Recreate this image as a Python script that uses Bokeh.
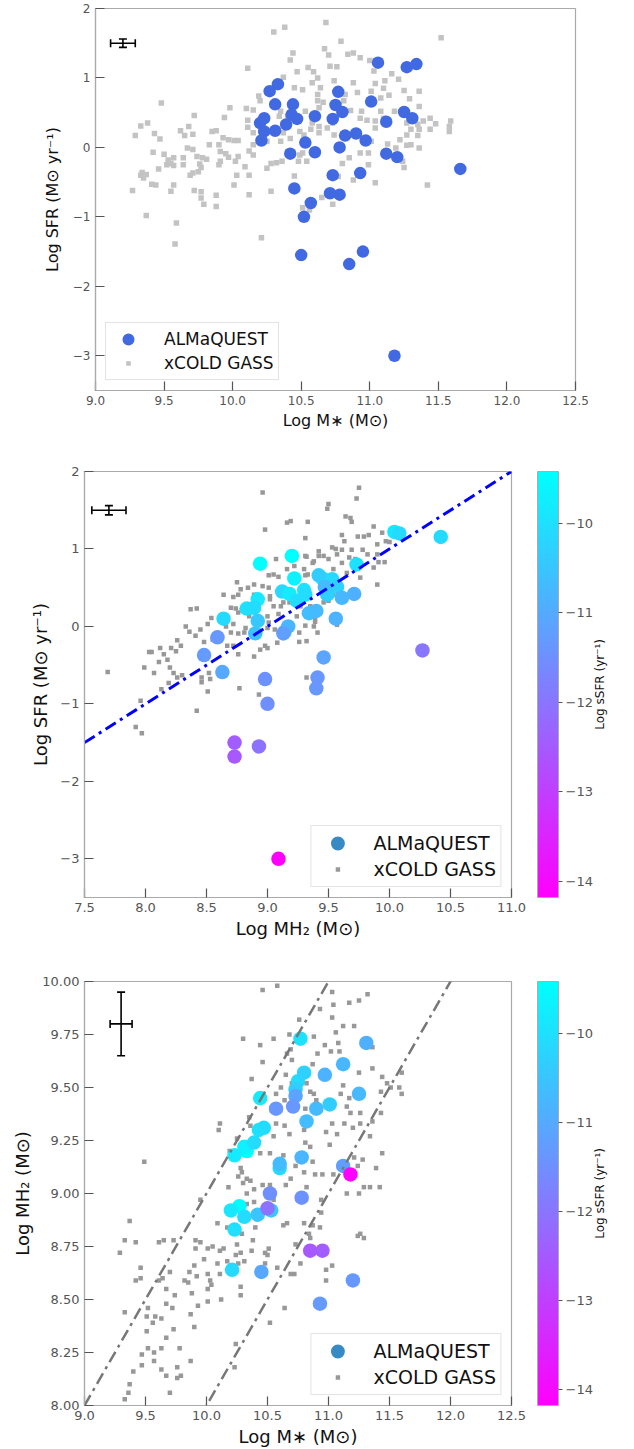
import math
from bokeh.plotting import figure
from bokeh.models import (Range1d, FixedTicker, CustomJSTickFormatter, ColumnDataSource,
                          LinearColorMapper, ColorBar, Legend, LegendItem, Whisker, TeeHead,
                          AllLabels, Div)
from bokeh.transform import transform
from bokeh.layouts import column, row
from bokeh.embed import file_html
from bokeh.resources import INLINE

FONT = "DejaVu Sans"

# ---------------- ALMaQUEST galaxies ----------------
alma_mstar = [11.06, 11.27, 11.34, 10.33, 10.27, 10.77, 10.31, 10.44, 10.75, 11.01,
              10.80, 11.25, 11.31, 10.60, 10.73, 11.12, 10.23, 10.20, 10.43, 10.47,
              10.39, 10.23, 10.31, 10.21, 10.53, 10.82, 10.90, 10.97, 10.42, 10.60,
              10.78, 11.12, 11.20, 11.66, 10.73, 10.93, 10.45, 10.71, 10.78, 10.57,
              10.52, 10.95, 10.50, 10.85, 11.18]
alma_sfr = [1.22, 1.155, 1.20, 0.91, 0.81, 0.80, 0.62, 0.62, 0.61, 0.66,
            0.51, 0.51, 0.42, 0.45, 0.41, 0.37, 0.42, 0.35, 0.47, 0.41,
            0.33, 0.23, 0.24, 0.10, 0.07, 0.17, 0.20, 0.10, -0.09, -0.07,
            0.00, -0.09, -0.14, -0.31, -0.40, -0.37, -0.59, -0.66, -0.68, -0.80,
            -1.00, -1.50, -1.55, -1.68, -3.00]
alma_mh2 = [10.04, 10.42, 10.08, 9.20, 8.94, 9.73, 9.22, 9.45, 9.53, 9.42,
            9.57, 9.47, 9.71, 9.12, 9.49, 9.61, 9.18, 8.92, 9.30, 9.31,
            9.24, 8.83, 8.89, 8.64, 8.92, 9.34, 9.40, 9.56, 8.90, 9.14,
            9.17, 9.13, 8.59, 10.27, 9.46, 8.48, 8.63, 9.41, 8.98, 9.40,
            9.00, 8.73, 8.93, 8.73, 9.09]
alma_ssfr = [s - m for s, m in zip(alma_sfr, alma_mstar)]

# ---------------- xCOLD GASS, panel 1 (M*, SFR) ----------------
xcg1_mstar = [10.30, 10.38, 10.44, 10.42, 10.47, 10.11, 10.37, 10.45, 10.51, 10.55,
              10.59, 10.58, 10.62, 10.19, 10.20, 9.98, 10.10, 10.15, 9.94, 10.11,
              10.11, 9.72, 9.48, 9.38, 9.33, 9.29, 9.43, 9.47, 9.62, 9.65,
              9.68, 9.71, 9.85, 9.88, 9.93, 9.97, 10.01, 10.04, 10.15, 10.15,
              10.12, 9.67, 9.71, 9.74, 9.78, 9.83, 9.90, 9.91, 9.95, 9.97,
              9.90, 9.91, 10.02, 10.04, 9.42, 9.50, 9.53, 9.57, 9.52, 9.55,
              9.57, 9.46, 9.64, 9.64, 9.76, 9.75, 9.77, 9.81, 9.34, 9.33,
              9.37, 9.35, 9.41, 9.44, 9.57, 9.55, 9.69, 9.71, 9.27, 9.72,
              9.77, 9.77, 9.79, 9.88, 9.88, 9.37, 10.01, 10.03, 10.09, 10.12,
              10.12, 10.25, 10.28, 10.28, 10.32, 10.36, 10.45, 10.48, 10.51, 10.54,
              10.57, 10.49, 10.42, 10.35, 10.37, 10.25, 10.15, 10.34, 10.35, 10.40,
              10.62, 10.53, 10.63, 10.62, 10.58, 10.63, 9.59, 9.58, 10.21, 10.51,
              10.68, 10.79, 10.67, 10.70, 10.84, 10.88, 10.93, 11.00, 10.71, 10.76,
              11.52, 11.03, 11.16, 11.21, 11.11, 11.04, 11.10, 11.14, 11.08, 11.01,
              11.25, 11.36, 11.29, 11.36, 11.18, 11.08, 10.94, 10.86, 10.81, 10.82,
              10.64, 10.74, 10.88, 10.91, 10.66, 10.73, 10.93, 10.98, 11.04, 11.10,
              11.27, 11.35, 11.39, 11.44, 11.48, 11.44, 11.36, 11.35, 11.59, 11.58,
              11.58, 11.30, 11.27, 11.22, 11.27, 11.30, 11.36, 11.13, 11.19, 11.04,
              11.01, 10.93, 10.99, 10.84, 10.85, 10.99, 10.80, 10.74, 10.69, 10.63,
              10.52, 10.49, 11.24, 11.25, 11.04, 11.42, 10.88, 10.77, 10.65, 10.73,
              10.56]
xcg1_sfr = [1.66, 1.73, 1.36, 1.26, 1.09, 1.14, 1.01, 0.86, 0.83, 1.15,
            1.09, 0.93, 1.00, 0.74, 0.67, 0.57, 0.56, 0.54, 0.43, 0.39,
            0.29, 0.46, 0.64, 0.35, 0.31, 0.17, 0.20, 0.12, 0.24, 0.17,
            0.30, 0.19, 0.23, 0.24, 0.14, 0.11, 0.10, 0.10, 0.04, -0.11,
            -0.05, -0.01, -0.03, -0.13, -0.15, 0.04, 0.04, -0.06, -0.09, -0.14,
            -0.25, -0.20, -0.20, -0.13, -0.07, -0.10, -0.18, -0.15, -0.25, -0.23,
            -0.26, -0.31, -0.25, -0.15, -0.24, -0.35, -0.29, -0.17, -0.36, -0.40,
            -0.39, -0.44, -0.53, -0.54, -0.54, -0.63, -0.40, -0.37, -0.62, -0.62,
            -0.64, -0.73, -0.82, -0.69, -0.85, -0.98, -0.54, -0.40, -0.28, -0.40,
            -0.68, -0.30, -0.63, -0.23, -0.22, -0.20, -0.41, -0.20, -0.08, -0.20,
            0.26, 0.23, 0.13, 0.09, 0.21, 0.09, 0.21, 0.45, 0.52, 0.45,
            0.76, 0.52, 0.57, 0.67, 0.35, 0.30, -1.09, -1.39, -1.30, -0.87,
            1.80, 1.53, 1.42, 1.33, 1.34, 1.36, 1.29, 1.25, 1.17, 1.16,
            1.58, 1.10, 1.06, 0.98, 0.96, 0.92, 0.85, 0.75, 0.71, 0.81,
            0.82, 0.81, 0.70, 0.59, 0.52, 0.52, 0.52, 0.53, 0.67, 0.76,
            0.86, 0.96, 0.93, 0.79, 0.65, 0.35, 0.42, 0.39, 0.38, 0.42,
            0.35, 0.33, 0.38, 0.42, 0.34, 0.26, 0.26, 0.17, 0.38, 0.30,
            0.23, 0.26, 0.18, 0.11, 0.03, 0.04, -0.01, 0.05, -0.01, 0.28,
            0.09, -0.08, -0.08, 0.18, -0.15, -0.25, -0.23, 0.18, 0.28, 0.21,
            0.18, -0.11, -0.20, -0.29, -0.51, -0.54, -0.47, -0.42, -0.72, -0.82,
            -0.90]

# ---------------- xCOLD GASS, panel 2 (MH2, SFR) ----------------
xcg2_mh2 = [8.96, 8.98, 9.16, 9.19, 9.33, 9.31, 9.07, 9.16, 9.22, 9.32,
            9.38, 9.42, 9.01, 9.05, 8.89, 8.96, 8.75, 8.78, 8.84, 8.64,
            8.72, 8.76, 8.89, 9.02, 8.70, 8.74, 8.76, 8.79, 8.85, 9.00,
            9.01, 9.06, 9.11, 9.13, 9.18, 9.27, 9.30, 9.35, 9.39, 9.38,
            9.41, 9.26, 9.31, 8.37, 8.42, 8.33, 8.36, 8.41, 8.45, 8.51,
            8.54, 8.48, 8.55, 8.26, 8.29, 8.21, 8.25, 8.12, 8.05, 8.03,
            8.15, 8.18, 8.11, 7.99, 8.07, 8.20, 8.23, 8.26, 8.30, 8.46,
            8.52, 8.53, 8.51, 7.69, 8.77, 8.89, 8.94, 8.98, 9.08, 8.76,
            8.82, 8.70, 8.66, 8.72, 8.61, 8.67, 8.72, 9.32, 9.32, 9.26,
            9.24, 9.75, 9.73, 9.50, 9.49, 9.64, 9.68, 9.69, 9.87, 9.61,
            9.63, 9.74, 9.79, 9.83, 9.94, 9.97, 10.00, 9.53, 9.56, 9.57,
            9.61, 9.69, 9.78, 9.82, 9.90, 9.90, 9.42, 9.46, 9.31, 9.37,
            9.50, 9.61, 9.67, 9.72, 9.74, 9.91, 9.96, 9.87, 9.76, 9.90,
            9.65, 9.54, 9.30, 9.33, 9.42, 9.50, 9.54, 9.50, 9.46, 9.39,
            9.57, 9.00, 8.76, 7.92, 7.97, 7.96, 8.13, 8.19, 8.46, 8.42,
            8.93, 9.05, 9.09, 9.02, 9.00, 8.81, 9.31, 9.09, 9.01]
xcg2_sfr = [1.73, 1.25, 1.34, 1.36, 1.35, 1.14, 0.87, 0.74, 0.78, 0.90,
            0.84, 0.91, 0.66, 0.67, 0.54, 0.52, 0.57, 0.48, 0.50, 0.41,
            0.38, 0.41, 0.41, 0.39, 0.24, 0.23, 0.18, 0.21, 0.13, 0.13,
            0.05, -0.04, 0.26, 0.31, 0.31, 0.26, 0.18, 0.26, 0.11, 0.00,
            -0.08, -0.20, 0.01, 0.22, 0.23, 0.00, -0.07, -0.12, -0.04, 0.03,
            0.11, -0.20, -0.17, -0.18, -0.25, -0.28, -0.32, -0.28, -0.33, -0.33,
            -0.36, -0.43, -0.46, -0.53, -0.60, -0.53, -0.60, -0.66, -0.63, -0.66,
            -0.60, -0.68, -0.84, -0.59, -0.80, -0.39, -0.30, -0.25, -0.21, -0.09,
            -0.02, -0.08, 0.00, 0.03, -0.10, -0.25, -0.25, -0.66, -0.19, -0.08,
            0.13, 1.79, 1.65, 1.58, 1.52, 1.42, 1.40, 1.35, 1.29, 1.18,
            1.10, 1.16, 1.16, 1.18, 1.21, 1.10, 1.09, 1.02, 1.00, 0.93,
            0.99, 0.99, 0.99, 0.93, 1.06, 0.93, 0.97, 0.91, 0.91, 0.82,
            0.87, 0.82, 0.89, 0.87, 0.76, 0.83, 0.83, 0.76, 0.63, 0.54,
            0.69, 0.74, 0.74, 0.67, 0.63, 0.54, 0.41, 0.33, 0.31, 0.06,
            0.02, -0.28, -0.36, -1.30, -1.38, -0.96, -0.81, -0.73, -0.72, -1.09,
            -0.88, 0.26, 0.16, 0.35, -0.02, -0.08, 0.66, 0.64, 0.50]

# ---------------- xCOLD GASS, panel 3 (M*, MH2) ----------------
xcg3_mstar = [10.58, 10.46, 10.30, 10.55, 10.44, 10.68, 10.76, 10.88, 10.66, 10.70,
              10.69, 10.46, 10.37, 10.65, 10.61, 10.70, 10.82, 10.85, 10.88, 10.57,
              10.64, 10.81, 10.90, 10.35, 10.36, 10.57, 10.64, 10.68, 10.55, 10.11,
              10.10, 10.25, 10.19, 10.44, 10.52, 10.63, 10.73, 10.80, 10.87, 10.89,
              9.49, 10.28, 10.29, 10.26, 10.33, 10.36, 10.30, 10.39, 10.33, 10.18,
              10.46, 10.52, 10.65, 10.69, 9.95, 10.39, 10.33, 10.55, 10.94, 11.03,
              11.32, 11.25, 11.17, 11.04, 10.93, 11.03, 11.21, 11.12, 11.06, 10.97,
              11.08, 11.02, 11.09, 11.36, 10.91, 10.87, 11.25, 11.36, 11.44, 11.60,
              11.58, 11.60, 11.43, 11.48, 11.51, 11.12, 11.10, 11.17, 11.15, 11.18,
              11.26, 11.43, 11.36, 11.03, 10.98, 11.07, 11.13, 11.26, 11.34, 11.20,
              10.83, 10.80, 10.81, 10.85, 11.01, 11.44, 11.21, 11.28, 11.39, 11.24,
              10.95, 11.04, 10.82, 11.15, 11.25, 11.29, 11.34, 11.42, 10.09, 10.17,
              10.28, 10.40, 10.66, 10.80, 10.93, 10.85, 11.24, 9.91, 10.01, 10.05,
              10.14, 10.25, 10.37, 10.51, 10.28, 10.50, 9.98, 10.17, 10.31, 10.58,
              10.77, 9.92, 10.11, 10.69, 9.29, 9.33, 9.37, 9.42, 9.33, 9.42,
              9.46, 9.46, 9.52, 9.51, 9.56, 9.51, 9.61, 9.65, 9.61, 9.64,
              9.70, 9.73, 9.67, 9.67, 9.63, 9.58, 9.72, 9.74, 9.82, 9.85,
              9.88, 9.86, 9.90, 9.91, 9.95, 9.87, 9.90, 9.93, 10.01, 10.03,
              10.04, 10.01, 10.01, 10.12, 10.09, 10.11, 10.24, 10.26, 10.28, 10.28,
              10.24, 10.23, 10.29, 10.38, 10.48, 10.48, 10.52, 10.63, 10.64, 10.72,
              10.73, 10.84, 10.87, 10.94, 10.98, 10.98, 11.03, 11.26, 11.29, 11.06,
              9.36, 9.37, 9.33, 9.40, 9.47, 9.47, 9.52, 9.57, 9.57, 9.63,
              9.63, 9.67, 9.67, 9.70, 9.73, 9.76, 9.76, 9.78, 9.79, 9.87]
xcg3_mh2 = [9.98, 9.96, 9.73, 9.73, 9.70, 9.75, 9.82, 9.74, 9.66, 9.63,
            9.68, 9.62, 9.54, 9.56, 9.50, 9.52, 9.52, 9.48, 9.47, 9.47,
            9.44, 9.40, 9.44, 9.36, 9.32, 9.33, 9.32, 9.28, 9.27, 9.33,
            9.30, 9.26, 9.20, 9.19, 9.19, 9.18, 9.13, 9.10, 9.15, 9.09,
            9.15, 9.12, 9.10, 9.08, 9.07, 9.06, 9.05, 9.02, 9.00, 9.03,
            9.04, 9.04, 9.04, 9.07, 8.97, 8.96, 8.95, 8.97, 8.97, 9.95,
            9.94, 9.91, 9.90, 9.89, 9.87, 9.83, 9.79, 9.79, 9.76, 9.70,
            9.71, 9.67, 9.67, 9.69, 9.66, 9.61, 9.57, 9.59, 9.55, 9.57,
            9.50, 9.47, 9.48, 9.52, 9.50, 9.51, 9.47, 9.45, 9.41, 9.38,
            9.38, 9.38, 9.34, 9.33, 9.29, 9.28, 9.33, 9.33, 9.27, 9.31,
            9.36, 9.30, 9.24, 9.22, 9.23, 9.19, 9.17, 9.16, 9.12, 9.13,
            9.09, 9.09, 9.03, 9.00, 9.00, 9.03, 9.03, 9.03, 8.86, 8.84,
            8.88, 8.84, 8.86, 8.86, 8.84, 8.79, 8.80, 8.78, 8.74, 8.75,
            8.74, 8.76, 8.73, 8.74, 8.72, 8.71, 8.69, 8.68, 8.68, 8.65,
            8.67, 8.61, 8.62, 8.62, 8.72, 8.78, 8.87, 8.77, 8.44, 8.59,
            8.60, 8.65, 8.46, 8.42, 8.39, 8.35, 8.77, 8.78, 8.59, 8.60,
            8.63, 8.78, 8.55, 8.48, 8.41, 8.42, 8.46, 8.52, 8.59, 8.58,
            8.53, 8.63, 8.66, 8.74, 8.77, 8.43, 8.37, 8.47, 8.62, 8.59,
            8.57, 8.55, 8.49, 8.50, 8.67, 8.73, 8.71, 8.67, 8.56, 8.52,
            8.29, 8.18, 8.81, 8.78, 8.72, 8.67, 8.39, 8.85, 8.46, 8.62,
            8.76, 8.81, 8.85, 8.91, 8.64, 8.59, 8.66, 8.81, 8.79, 8.12,
            8.06, 8.10, 8.03, 8.16, 8.24, 8.19, 8.27, 8.25, 8.21, 8.27,
            8.17, 8.32, 8.14, 8.06, 8.36, 8.18, 8.13, 8.27, 8.14, 8.21]

# ---------------- error bars and relations ----------------
err1_x, err1_y, err1_dx, err1_dy = [9.2], [1.5], [0.09], [0.06]
err2_x, err2_y, err2_dx, err2_dy = [7.7], [1.5], [0.14], [0.06]
err3_x, err3_y, err3_dx, err3_dy = [9.3], [9.8], [0.09], [0.15]
sfe_offset = 9.0               # log SFR = log MH2 - 9
gas_frac_offsets = [1.0, 2.0]  # log MH2 = log M* - offset

# ---------------- ticks ----------------
x1_ticks = [9.0, 9.5, 10.0, 10.5, 11.0, 11.5, 12.0, 12.5]
y1_ticks = [2, 1, 0, -1, -2, -3]
x2_ticks = [7.5, 8.0, 8.5, 9.0, 9.5, 10.0, 10.5, 11.0]
y3_ticks = [8.0, 8.25, 8.5, 8.75, 9.0, 9.25, 9.5, 9.75, 10.0]
cbar_ticks = [-10, -11, -12, -13, -14]

AX_COL = "#aaaaaa"
TICK_COL = "#555555"


def fmt(d):
    return CustomJSTickFormatter(code="return tick.toFixed(%d).replace('-', '\\u2212')" % d)


def make_fig(xr, yr, fw, fh, bl, br, bt, bb, xt, yt, xd, yd, xlabel, ylabel, tfs, lfs, ylab_std):
    p = figure(x_range=Range1d(*xr), y_range=Range1d(*yr), frame_width=fw, frame_height=fh,
               min_border_left=bl, min_border_right=br, min_border_top=bt, min_border_bottom=bb,
               output_backend="svg", toolbar_location=None, tools="")
    p.grid.visible = False
    p.outline_line_color = AX_COL
    p.outline_line_width = 1.2
    p.background_fill_color = "white"
    p.border_fill_color = "white"
    p.xaxis.ticker = FixedTicker(ticks=xt)
    p.yaxis.ticker = FixedTicker(ticks=yt)
    p.xaxis.formatter = fmt(xd)
    p.yaxis.formatter = fmt(yd)
    p.xaxis.axis_label = xlabel
    p.yaxis.axis_label = ylabel
    for ax in p.xaxis + p.yaxis:
        ax.axis_line_color = AX_COL
        ax.axis_line_width = 1.2
        ax.major_tick_in = 9
        ax.major_tick_out = 0
        ax.minor_tick_in = 0
        ax.minor_tick_out = 0
        ax.major_tick_line_color = TICK_COL
        ax.major_tick_line_width = 1.2
        ax.major_label_text_font = FONT
        ax.major_label_text_font_size = tfs
        ax.major_label_text_color = TICK_COL
        ax.axis_label_text_font = FONT
        ax.axis_label_text_font_size = lfs
        ax.axis_label_text_font_style = "normal"
        ax.axis_label_text_color = "#111111"
    p.xaxis.major_label_standoff = 5
    p.xaxis.axis_label_standoff = 3
    p.yaxis.major_label_standoff = 5
    p.yaxis.axis_label_standoff = ylab_std
    return p


def add_errbar(p, x, y, dx, dy):
    src = ColumnDataSource(dict(x=x, y=y,
                                xl=[a - b for a, b in zip(x, dx)], xu=[a + b for a, b in zip(x, dx)],
                                yl=[a - b for a, b in zip(y, dy)], yu=[a + b for a, b in zip(y, dy)]))
    for base, lo, up, dim in (("y", "xl", "xu", "width"), ("x", "yl", "yu", "height")):
        p.add_layout(Whisker(source=src, base=base, lower=lo, upper=up, dimension=dim,
                             line_color="black", line_width=1.6,
                             lower_head=TeeHead(size=8, line_color="black", line_width=1.6),
                             upper_head=TeeHead(size=8, line_color="black", line_width=1.6)))


def add_legend(p, circ_color, sq_color, loc, fs, gw, gh, standoff, circ_lw, sq_lw):
    nan = float("nan")
    r1 = p.scatter(x=[nan], y=[nan], marker="circle", size=10, fill_color=circ_color,
                   line_color=circ_color, line_width=circ_lw)
    r2 = p.scatter(x=[nan], y=[nan], marker="square", size=10, fill_color=sq_color,
                   line_color="white", line_width=sq_lw)
    leg = Legend(items=[LegendItem(label="ALMaQUEST", renderers=[r1]),
                        LegendItem(label="xCOLD GASS", renderers=[r2])],
                 location=loc, margin=10, padding=4, spacing=0,
                 glyph_width=gw, glyph_height=gh, label_standoff=standoff, label_height=gh,
                 label_text_font=FONT, label_text_font_size=fs, label_text_color="#111111",
                 border_line_color="#c8c8c8", border_line_width=1.2,
                 background_fill_color="white", background_fill_alpha=0.85)
    p.add_layout(leg)


# ---------------- colour map (cool, reversed) ----------------
cool_r = []
for i in range(256):
    t = i / 255.0
    cool_r.append("#%02x%02x%02x" % (int(round(255 * (1 - t))), int(round(255 * t)), 255))
mapper = LinearColorMapper(palette=cool_r, low=min(alma_ssfr), high=max(alma_ssfr))


def add_colorbar(p, fh):
    cb = ColorBar(color_mapper=mapper, ticker=FixedTicker(ticks=cbar_ticks), formatter=fmt(0),
                  major_label_policy=AllLabels(),
                  width=21, height=fh, margin=0, padding=0, location=(26, 0),
                  major_label_text_font=FONT, major_label_text_font_size="13px",
                  major_label_text_color=TICK_COL, major_tick_out=4, major_tick_in=0,
                  major_tick_line_color=TICK_COL, label_standoff=3,
                  bar_line_color=AX_COL, border_line_color=None, background_fill_color=None)
    p.add_layout(cb, "right")


def cbar_title(total_h, top, fh):
    html = ('<div style="width:12px;height:%dpx;margin-top:%dpx;display:flex;'
            'align-items:center;justify-content:center;">'
            '<span style="writing-mode:vertical-rl;transform:rotate(180deg);'
            'font-family:\'DejaVu Sans\';font-size:12px;color:#111111;white-space:nowrap;">'
            'Log sSFR (yr\u207b\u00b9)</span></div>') % (fh, top)
    return Div(text=html, width=12, height=total_h, margin=0)


# ================= Panel 1 =================
p1 = make_fig((9.0, 12.5), (-3.5, 2.0), 480, 382, 95, 25, 8, 48, x1_ticks, y1_ticks, 1, 0,
              "Log M\u2217 (M\u2299)", "Log SFR (M\u2299 yr\u207b\u00b9)", "12px", "16px", 8)
p1.scatter(xcg1_mstar, xcg1_sfr, marker="square", size=5.5, fill_color="#c3c3c3", line_color=None)
p1.scatter(alma_mstar, alma_sfr, marker="circle", size=12.5, fill_color="#4169e1", line_color=None)
add_errbar(p1, err1_x, err1_y, err1_dx, err1_dy)
add_legend(p1, "#4169e1", "#c3c3c3", "bottom_left", "17px", 36, 24, 18, 2.4, 5)

# ================= Panel 2 =================
src_alma = ColumnDataSource(dict(mstar=alma_mstar, sfr=alma_sfr, mh2=alma_mh2, ssfr=alma_ssfr))

p2 = make_fig((7.5, 11.0), (-3.5, 2.0), 427, 426, 84, 82, 33, 52, x2_ticks, y1_ticks, 1, 0,
              "Log MH\u2082 (M\u2299)", "Log SFR (M\u2299 yr\u207b\u00b9)", "13px", "18px", 6)
p2.scatter(xcg2_mh2, xcg2_sfr, marker="square", size=4.5, fill_color="#989898", line_color=None)
p2.scatter("mh2", "sfr", source=src_alma, marker="circle", size=14.5,
           fill_color=transform("ssfr", mapper), line_color=None)
lx2 = [x2_ticks[0], x2_ticks[-1]]
p2.line(lx2, [v - sfe_offset for v in lx2], line_color="#0000ff", line_width=3, line_dash="12 5 3 5")
add_errbar(p2, err2_x, err2_y, err2_dx, err2_dy)
add_legend(p2, "#378ac3", "#989898", "bottom_right", "19px", 44, 26, 14, 3.5, 6)
add_colorbar(p2, 426)

# ================= Panel 3 =================
p3 = make_fig((9.0, 12.5), (8.0, 10.0), 427, 424, 84, 82, 32, 40, x1_ticks, y3_ticks, 1, 2,
              "Log M\u2217 (M\u2299)", "Log MH\u2082 (M\u2299)", "13px", "18px", 6)
p3.scatter(xcg3_mstar, xcg3_mh2, marker="square", size=4.5, fill_color="#989898", line_color=None)
p3.scatter("mstar", "mh2", source=src_alma, marker="circle", size=14.5,
           fill_color=transform("ssfr", mapper), line_color=None)
lx3 = [x1_ticks[0], x1_ticks[-1]]
for off in gas_frac_offsets:
    p3.line(lx3, [v - off for v in lx3], line_color="#777777", line_width=2.5, line_dash="12 5 3 5")
add_errbar(p3, err3_x, err3_y, err3_dx, err3_dy)
add_legend(p3, "#378ac3", "#989898", "bottom_right", "19px", 44, 26, 14, 3.5, 6)
add_colorbar(p3, 424)

layout = column(row(p1), row(p2, cbar_title(511, 33, 426)), row(p3, cbar_title(496, 32, 424)))
open("out.html", "w").write(file_html(layout, INLINE))
